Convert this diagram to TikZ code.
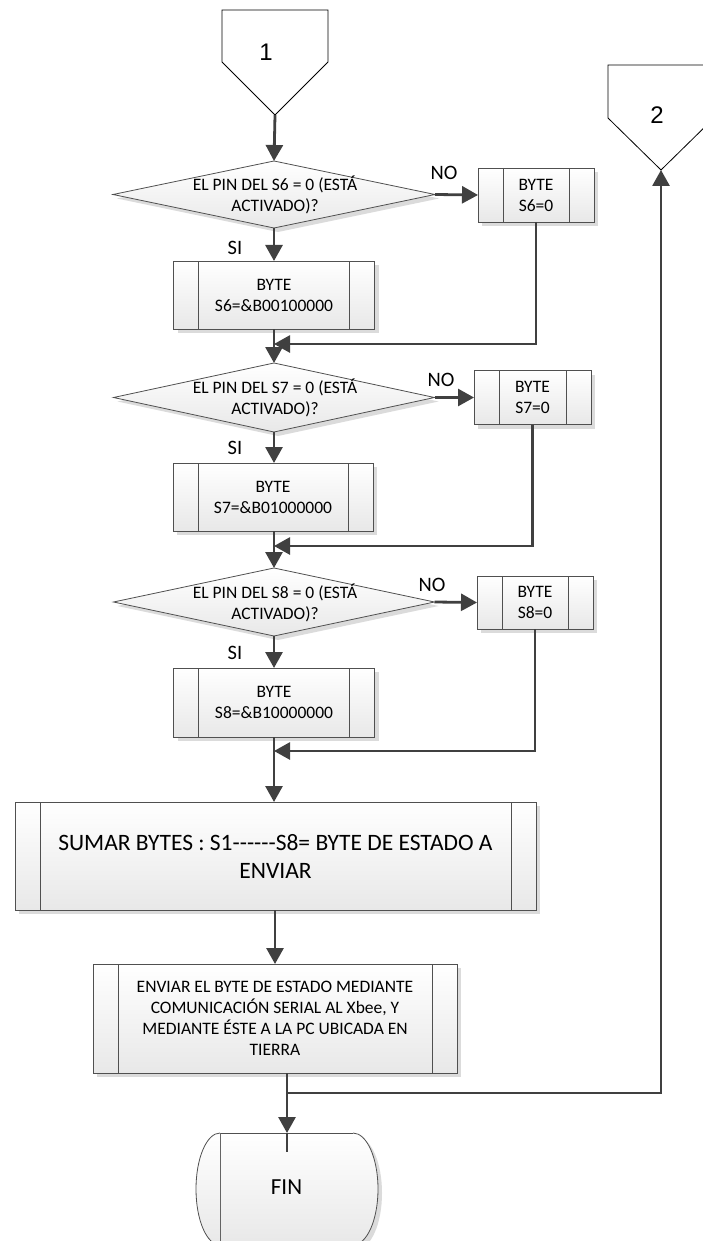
\documentclass[tikz,border=0pt]{standalone}
\usepackage{fontspec}
\setmainfont{Carlito}[Ligatures=NoCommon]
\newfontfamily\arialf{Liberation Sans}
\usetikzlibrary{shapes.geometric,arrows.meta,shadows,calc}
\definecolor{linec}{HTML}{404040}
\definecolor{edgec}{HTML}{505050}
\newcommand\innerlines[1]{%
  \draw[edgec,line width=0.8pt] ([xshift=25pt]#1.north west) -- ([xshift=25pt]#1.south west);
  \draw[edgec,line width=0.8pt] ([xshift=-25pt]#1.north east) -- ([xshift=-25pt]#1.south east);}
\begin{document}
\begin{tikzpicture}[x=1pt,y=-1pt,
  shad/.style={drop shadow={shadow xshift=4pt,shadow yshift=-4pt,fill=black!14,opacity=1}},
  box/.style={rectangle,draw=edgec,line width=0.8pt,top color=white,bottom color=black!9,shad,
    inner sep=0pt,outer sep=0pt,align=center,font=\fontsize{17.5}{21}\selectfont},
  dec/.style={diamond,draw=edgec,line width=0.8pt,top color=white,bottom color=black!9,shad,
    inner sep=0pt,outer sep=0pt},
  dtext/.style={align=center,inner sep=0pt,font=\fontsize{17.5}{21}\selectfont},
  flow/.style={draw=linec,line width=2.8pt,-{Triangle[length=16pt,width=17pt]}},
  plain/.style={draw=linec,line width=2.8pt},
  lbl/.style={inner sep=0pt,font=\fontsize{20.5}{22}\selectfont},
  conn/.style={draw=black,line width=0.8pt,fill=white},
  cnum/.style={inner sep=0pt,font=\arialf\fontsize{24}{24}\selectfont},
  grad/.style={top color=white,bottom color=black!9}]
\useasboundingbox[fill=white] (0,0) rectangle (703,1241);

% off-page connectors
\draw[conn] (222,10) -- (328,10) -- (328,62) -- (275,115) -- (222,62) -- cycle;
\node[cnum] (c1) at (266,52) {1};
\coordinate (c1tip) at (275,115);
\draw[conn] (608,65) -- (714,65) -- (714,118) -- (661,170) -- (608,118) -- cycle;
\node[cnum] (c2) at (657,115) {2};
\coordinate (c2tip) at (661,170);

% decisions
\node[dec,minimum width=322pt,minimum height=67pt] (d1) at (274,194.5) {};
\node[dtext] (d1t) at (275,195) {EL PIN DEL S6 = 0 (ESTÁ\\ACTIVADO)?};
\node[dec,minimum width=321pt,minimum height=69pt] (d2) at (274,397.5) {};
\node[dtext] (d2t) at (275,398) {EL PIN DEL S7 = 0 (ESTÁ\\ACTIVADO)?};
\node[dec,minimum width=321pt,minimum height=68pt] (d3) at (274,602) {};
\node[dtext] (d3t) at (275,603) {EL PIN DEL S8 = 0 (ESTÁ\\ACTIVADO)?};

% boxes
\node[box,minimum width=116pt,minimum height=54pt] (b6n) at (536,195) {BYTE\\S6=0};
\node[box,minimum width=201pt,minimum height=68pt] (b6s) at (274,295) {BYTE\\S6=\&B00100000};
\node[box,minimum width=117pt,minimum height=54pt] (b7n) at (532.5,397.5) {BYTE\\S7=0};
\node[box,minimum width=200pt,minimum height=68pt] (b7s) at (273,497) {BYTE\\S7=\&B01000000};
\node[box,minimum width=116pt,minimum height=53pt] (b8n) at (535,602.5) {BYTE\\S8=0};
\node[box,minimum width=201pt,minimum height=69pt] (b8s) at (274,702.5) {BYTE\\S8=\&B10000000};
\node[box,minimum width=521pt,minimum height=108pt,font=\fontsize{23.5}{28}\selectfont] (sum) at (275.5,856)
  {SUMAR BYTES : S1-{}-{}-{}-{}-{}-S8= BYTE DE ESTADO A\\ENVIAR};
\node[box,minimum width=364pt,minimum height=109pt] (env) at (275,1018.5)
  {ENVIAR EL BYTE DE ESTADO MEDIANTE\\COMUNICACIÓN SERIAL AL Xbee, Y\\MEDIANTE ÉSTE A LA PC UBICADA EN\\TIERRA};
\foreach \b in {b6n,b6s,b7n,b7s,b8n,b8s,sum,env}{\innerlines{\b}}

% terminator FIN
\fill[black!14] (224,1137) rectangle (357,1250);
\fill[black!14] (357,1137) arc[start angle=90,end angle=-90,x radius=25pt,y radius=56pt] -- cycle;
\node[rectangle,draw=edgec,line width=0.8pt,grad,inner sep=0pt,outer sep=0pt,
  minimum width=133pt,minimum height=112pt] (fin) at (286.5,1189) {};
\shade[grad] (fin.north west) arc[start angle=90,end angle=270,x radius=24pt,y radius=56pt] -- cycle;
\draw[edgec,line width=0.8pt] (fin.north west) arc[start angle=90,end angle=270,x radius=24pt,y radius=56pt];
\shade[grad] (fin.north east) arc[start angle=90,end angle=-90,x radius=25pt,y radius=56pt] -- cycle;
\draw[edgec,line width=0.8pt] (fin.north east) arc[start angle=90,end angle=-90,x radius=25pt,y radius=56pt];
\node[inner sep=0pt,font=\fontsize{23}{26}\selectfont] (fint) at (286.5,1187) {FIN};

% labels
\node[lbl] (no1) at (444,173) {NO};
\node[lbl] (si1) at (235,248) {SI};
\node[lbl] (no2) at (441,380) {NO};
\node[lbl] (si2) at (235,448) {SI};
\node[lbl] (no3) at (432,585) {NO};
\node[lbl] (si3) at (235,653) {SI};

% connectors
\coordinate (m1) at (274,344);
\coordinate (m2) at (274,546);
\coordinate (m3) at (274,751);
\draw[flow] (c1tip) -- (d1.north);
\draw[flow] (d1.east) -- (b6n.west);
\draw[flow] (d1.south) -- (b6s.north);
\draw[flow] (b6n.south) |- (m1);
\draw[flow] (b6s.south) -- (d2.north);
\draw[flow] (d2.east) -- (d2.east -| b7n.west);
\draw[flow] (d2.south) -- (d2.south |- b7s.north);
\draw[flow] (b7n.south) |- (m2);
\draw[flow] (b7s.south -| m2) -- (d3.north);
\draw[flow] (d3.east) -- (b8n.west);
\draw[flow] (d3.south) -- (b8s.north);
\draw[flow] (b8n.south) |- (m3);
\draw[flow] (b8s.south) -- (b8s.south |- sum.north);
\draw[flow] (sum.south -| env.north) -- (env.north);
\coordinate (e1) at ($(env.south)+(12,0)$);
\coordinate (j) at (287,1093);
\draw[plain] (e1) -- (j);
\draw[flow] (j) -- (j |- fin.north);
\draw[plain] (j |- fin.north) -- ++(0,19);
\draw[flow] (j) -| (c2tip);
\end{tikzpicture}
\end{document}
